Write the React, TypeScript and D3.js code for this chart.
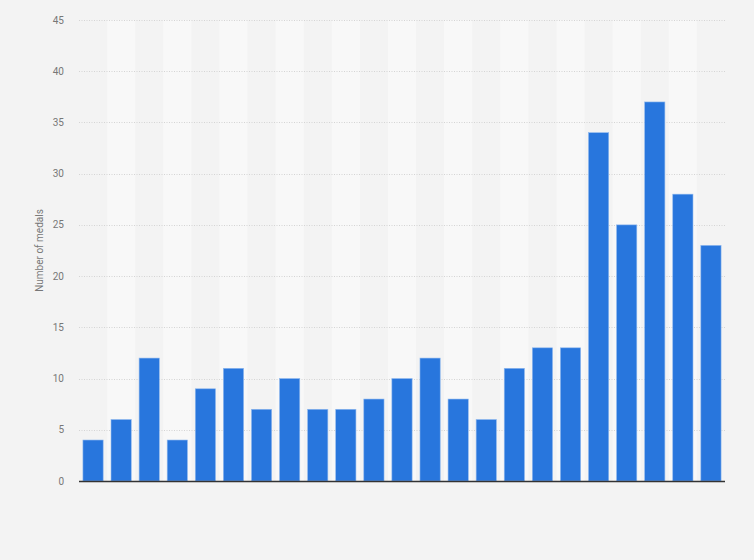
import React, { useEffect, useRef } from 'react';
import * as d3 from 'd3';

// medals per edition
const editions = d3.range(23).map(i => `E${i + 1}`);
const medals = [4, 6, 12, 4, 9, 11, 7, 10, 7, 7, 8, 10, 12, 8, 6, 11, 13, 13, 34, 25, 37, 28, 23];
const yTicks = [0, 5, 10, 15, 20, 25, 30, 35, 40, 45];
const yLabel = 'Number of medals';

const App: React.FC = () => {
  const ref = useRef<SVGSVGElement | null>(null);

  useEffect(() => {
    if (!ref.current) return;
    const width = 754;
    const height = 560;
    const margin = { top: 20, right: 29, bottom: 79, left: 79 };

    const svg = d3.select(ref.current);
    svg.selectAll('*').remove();
    svg.attr('width', width).attr('height', height);

    svg.append('rect')
      .attr('width', width)
      .attr('height', height)
      .attr('fill', '#f3f3f3');

    const x0 = margin.left;
    const x1 = width - margin.right;
    const y0 = height - margin.bottom;

    const band = d3.scaleBand<string>()
      .domain(editions)
      .range([x0, x1])
      .padding(0);

    const x = d3.scaleBand<string>()
      .domain(editions)
      .range([x0, x1])
      .paddingInner(0.28)
      .paddingOuter(0.14);

    const y = d3.scaleLinear()
      .domain([0, 45])
      .range([y0, margin.top]);

    // alternating column shading
    svg.append('g')
      .selectAll('rect')
      .data(editions.filter((_, i) => i % 2 === 1))
      .enter().append('rect')
      .attr('x', d => band(d) as number)
      .attr('y', margin.top)
      .attr('width', band.bandwidth())
      .attr('height', y0 - margin.top)
      .attr('fill', '#f8f8f8');

    // grid + tick labels
    const grid = svg.append('g');
    grid.selectAll('line')
      .data(yTicks.filter(t => t > 0))
      .enter().append('line')
      .attr('x1', x0)
      .attr('x2', x1)
      .attr('y1', d => Math.round(y(d)) + 0.5)
      .attr('y2', d => Math.round(y(d)) + 0.5)
      .attr('stroke', '#d4d4d4')
      .attr('stroke-dasharray', '1,1.5');

    grid.selectAll('text')
      .data(yTicks)
      .enter().append('text')
      .attr('x', 64)
      .attr('y', d => y(d))
      .attr('dy', '0.35em')
      .attr('text-anchor', 'end')
      .attr('font-family', 'Roboto, Arial, sans-serif')
      .attr('font-size', 10)
      .attr('fill', '#777')
      .text(d => d);

    svg.append('g')
      .selectAll('rect')
      .data(medals)
      .enter().append('rect')
      .attr('x', (_, i) => x(editions[i]) as number)
      .attr('y', d => y(d))
      .attr('width', x.bandwidth())
      .attr('height', d => y0 - y(d))
      .attr('fill', '#2876dd')
      .attr('stroke', '#8fb8ee')
      .attr('stroke-width', 0.6);

    svg.append('line')
      .attr('x1', x0)
      .attr('x2', x1)
      .attr('y1', y0 + 0.5)
      .attr('y2', y0 + 0.5)
      .attr('stroke', '#333')
      .attr('stroke-width', 1.3);

    svg.append('text')
      .attr('transform', `translate(43,${(margin.top + y0) / 2}) rotate(-90)`)
      .attr('text-anchor', 'middle')
      .attr('font-family', 'Roboto, Arial, sans-serif')
      .attr('font-size', 10)
      .attr('fill', '#777')
      .text(yLabel);
  }, []);

  return (
    <div style={{ position: 'absolute', left: 0, top: 0 }}>
      <svg ref={ref} style={{ display: 'block' }}></svg>
    </div>
  );
};

export default App;
